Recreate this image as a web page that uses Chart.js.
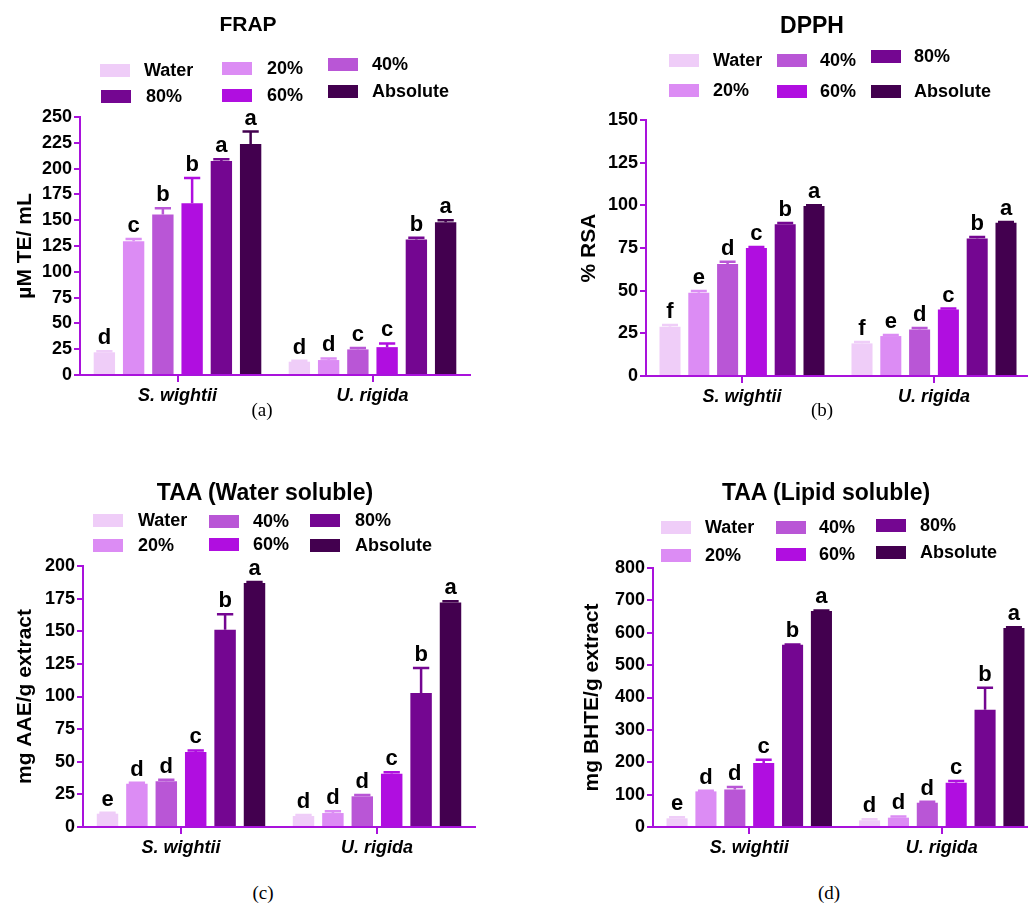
<!DOCTYPE html>
<html>
<head>
<meta charset="utf-8">
<script src="https://cdn.jsdelivr.net/npm/chart.js@4.4.0/dist/chart.umd.min.js"></script>
<style>
  body { margin: 0; background: #fff; font-family: "Liberation Sans", Arial, sans-serif; }
  #page { position: relative; width: 1028px; height: 904px; overflow: hidden; background: #fff; }
  canvas { position: absolute; }
  .title { position: absolute; font-weight: bold; transform: translate(-50%, -50%); white-space: nowrap; color: #000; }
  .sw { position: absolute; width: 30px; height: 13px; }
  .lt { position: absolute; font-weight: bold; font-size: 18px; transform: translateY(-50%); white-space: nowrap; color: #000; }
  .cap { position: absolute; font-family: "Liberation Serif", "Times New Roman", serif; font-size: 19px; transform: translate(-50%, -50%); color: #000; }
</style>
</head>
<body>
<div id="page">
  <canvas id="frap" width="510" height="420" style="left:0;top:0"></canvas>
  <canvas id="dpph" width="530" height="420" style="left:510px;top:0"></canvas>
  <canvas id="taaw" width="510" height="420" style="left:0;top:440px"></canvas>
  <canvas id="taal" width="530" height="420" style="left:510px;top:440px"></canvas>
</div>
<script>
// categories and solvents
const categories = ['S. wightii', 'U. rigida']
const solvents = ['Water', '20%', '40%', '60%', '80%', 'Absolute']

// FRAP (µM TE/ mL)
const frapWightii = [22, 129.7, 155.5, 166.5, 207.4, 223.9]
const frapRigida = [12.9, 14.5, 24.8, 27, 131.3, 148]
const frapErrWightii = [1, 2, 6, 24.5, 1.6, 12]
const frapErrRigida = [1, 1.5, 1.3, 3.6, 1.7, 2]
const frapLetWightii = ['d', 'c', 'b', 'b', 'a', 'a']
const frapLetRigida = ['d', 'd', 'c', 'c', 'b', 'a']

// DPPH (% RSA)
const dpphWightii = [28.9, 48.8, 65.6, 75, 88.9, 99.6]
const dpphRigida = [19.1, 23.4, 27.3, 39, 80.5, 89.8]
const dpphErrWightii = [1, 1, 1.4, 0.6, 0.7, 0.4]
const dpphErrRigida = [0.8, 0.6, 0.8, 0.5, 0.9, 0.4]
const dpphLetWightii = ['f', 'e', 'd', 'c', 'b', 'a']
const dpphLetRigida = ['f', 'e', 'd', 'c', 'b', 'a']

// TAA water soluble (mg AAE/g extract)
const taawWightii = [10.2, 33.2, 35, 57.5, 151.2, 187]
const taawRigida = [8.4, 10.7, 23.5, 40.9, 102.7, 172.1]
const taawErrWightii = [0.8, 0.8, 1.3, 1.2, 11.8, 0.7]
const taawErrRigida = [0.8, 1.3, 1, 1, 19.1, 0.8]
const taawLetWightii = ['e', 'd', 'd', 'c', 'b', 'a']
const taawLetRigida = ['d', 'd', 'd', 'c', 'b', 'a']

// TAA lipid soluble (mg BHTE/g extract)
const taalWightii = [26.8, 110, 116, 197.7, 563, 667]
const taalRigida = [20.6, 28.8, 75, 137, 362.4, 614.7]
const taalErrWightii = [3, 2, 7.5, 10, 1, 2]
const taalErrRigida = [3, 4, 3, 5, 67.6, 2]
const taalLetWightii = ['e', 'd', 'd', 'c', 'b', 'a']
const taalLetRigida = ['d', 'd', 'd', 'c', 'b', 'a']

const solventColors = ['#efcdf8', '#dc8cf4', '#b956d6', '#b00ee0', '#740691', '#43004f']
const AXIS = '#a912dc'
const FONT = '"Liberation Sans", Arial, sans-serif'

// error bars (upper only) + significance letters
const errorLetters = {
  id: 'errorLetters',
  afterDatasetsDraw(chart) {
    const ctx = chart.ctx
    const yScale = chart.scales.y
    ctx.save()
    chart.data.datasets.forEach((ds, i) => {
      const meta = chart.getDatasetMeta(i)
      meta.data.forEach((bar, j) => {
        const yTop = yScale.getPixelForValue(ds.data[j] + ds.err[j])
        const half = bar.width * 0.38
        ctx.strokeStyle = ds.backgroundColor
        ctx.lineWidth = 2.5
        ctx.beginPath()
        ctx.moveTo(bar.x, bar.y)
        ctx.lineTo(bar.x, yTop)
        ctx.moveTo(bar.x - half, yTop)
        ctx.lineTo(bar.x + half, yTop)
        ctx.stroke()
        ctx.fillStyle = '#000'
        ctx.font = 'bold 22px ' + FONT
        ctx.textAlign = 'center'
        ctx.textBaseline = 'alphabetic'
        ctx.fillText(ds.letters[j], bar.x, yTop - 7)
      })
    })
    ctx.restore()
  }
}

function panelChart(id, p) {
  const canvas = document.getElementById(id)
  const W = canvas.width
  const H = canvas.height
  const datasets = solvents.map((s, i) => ({
    label: s,
    data: [p.wightii[i], p.rigida[i]],
    err: [p.errW[i], p.errR[i]],
    letters: [p.letW[i], p.letR[i]],
    backgroundColor: solventColors[i],
    categoryPercentage: 0.9,
    barPercentage: 0.73,
  }))
  return new Chart(canvas, {
    type: 'bar',
    data: { labels: categories, datasets: datasets },
    options: {
      responsive: false,
      animation: false,
      devicePixelRatio: 1,
      layout: { padding: { left: 0, top: p.area.top, right: W - p.area.right, bottom: 0 } },
      plugins: { legend: { display: false }, tooltip: { enabled: false } },
      scales: {
        x: {
          grid: { offset: false, drawOnChartArea: false, drawTicks: true, tickLength: 7, color: AXIS, lineWidth: 2 },
          border: { color: AXIS, width: 2 },
          ticks: { color: '#000', padding: 3, font: { family: FONT, size: 18, weight: 'bold', style: 'italic' } },
          afterFit: (s) => { s.height = H - p.area.bottom },
        },
        y: {
          min: 0,
          max: p.yMax,
          ticks: { stepSize: p.step, color: '#000', padding: 2, font: { family: FONT, size: 18, weight: 'bold' } },
          grid: { drawOnChartArea: false, drawTicks: true, tickLength: 6, color: AXIS, lineWidth: 2 },
          border: { color: AXIS, width: 2 },
          title: {
            display: true,
            text: p.yTitle,
            color: '#000',
            padding: { top: p.titlePad, bottom: 0 },
            font: { family: FONT, size: 21, weight: 'bold' },
          },
          afterFit: (s) => { s.width = p.area.left },
        },
      },
    },
    plugins: [errorLetters],
  })
}

// titles, legends and panel captions
const page = document.getElementById('page')
function addText(cls, text, x, y, size) {
  const el = document.createElement('div')
  el.className = cls
  el.textContent = text
  el.style.left = x + 'px'
  el.style.top = y + 'px'
  if (size) el.style.fontSize = size + 'px'
  page.appendChild(el)
}
function addLegend(items) {
  // items: [swatchLeft, centerY, textLeft] in solvent order
  items.forEach((it, i) => {
    const sw = document.createElement('div')
    sw.className = 'sw'
    sw.style.left = it[0] + 'px'
    sw.style.top = (it[1] - 6.5) + 'px'
    sw.style.background = solventColors[i]
    page.appendChild(sw)
    addText('lt', solvents[i], it[2], it[1])
  })
}

addText('title', 'FRAP', 248, 24, 21)
addText('title', 'DPPH', 812, 25, 23)
addText('title', 'TAA (Water soluble)', 265, 492, 23)
addText('title', 'TAA (Lipid soluble)', 826, 492, 23)

addLegend([[100, 70, 144], [222, 68, 267], [328, 64, 372], [222, 95, 267], [101, 96, 146], [328, 91, 372]])
addLegend([[669, 60, 713], [669, 90, 713], [777, 60, 820], [777, 91, 820], [871, 56, 914], [871, 91, 914]])
addLegend([[93, 520, 138], [93, 545, 138], [209, 521, 253], [209, 544, 253], [310, 520, 355], [310, 545, 355]])
addLegend([[661, 527, 705], [661, 555, 705], [776, 527, 819], [776, 554, 819], [876, 525, 920], [876, 552, 920]])

addText('cap', '(a)', 262, 410)
addText('cap', '(b)', 822, 410)
addText('cap', '(c)', 263, 893)
addText('cap', '(d)', 829, 893)

panelChart('frap', {
  wightii: frapWightii, rigida: frapRigida, errW: frapErrWightii, errR: frapErrRigida,
  letW: frapLetWightii, letR: frapLetRigida,
  yMax: 250, step: 25, yTitle: 'µM TE/ mL', titlePad: 13,
  area: { left: 80, right: 470, top: 117, bottom: 375 },
})
panelChart('dpph', {
  wightii: dpphWightii, rigida: dpphRigida, errW: dpphErrWightii, errR: dpphErrRigida,
  letW: dpphLetWightii, letR: dpphLetRigida,
  yMax: 150, step: 25, yTitle: '% RSA', titlePad: 67,
  area: { left: 136, right: 520, top: 120, bottom: 376 },
})
panelChart('taaw', {
  wightii: taawWightii, rigida: taawRigida, errW: taawErrWightii, errR: taawErrRigida,
  letW: taawLetWightii, letR: taawLetRigida,
  yMax: 200, step: 25, yTitle: 'mg AAE/g extract', titlePad: 13,
  area: { left: 83, right: 475, top: 126, bottom: 387 },
})
panelChart('taal', {
  wightii: taalWightii, rigida: taalRigida, errW: taalErrWightii, errR: taalErrRigida,
  letW: taalLetWightii, letR: taalLetRigida,
  yMax: 800, step: 100, yTitle: 'mg BHTE/g extract', titlePad: 70,
  area: { left: 143, right: 528, top: 128, bottom: 387 },
})
</script>
</body>
</html>
